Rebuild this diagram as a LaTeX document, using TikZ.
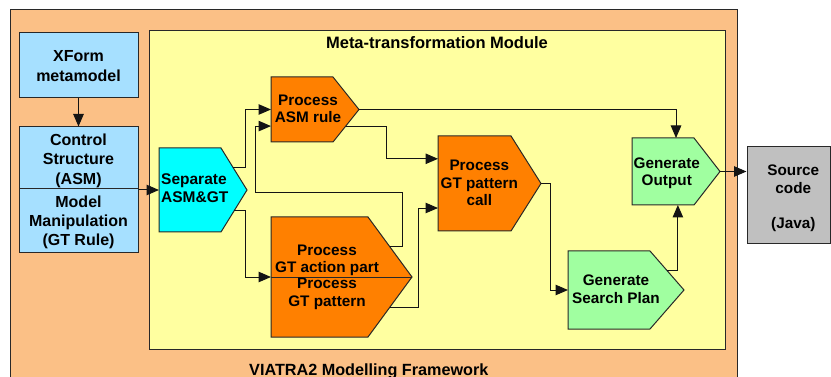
\documentclass[tikz,border=0pt]{standalone}
\usepackage{fontspec}
\setmainfont{Liberation Sans}
\usetikzlibrary{arrows.meta,calc}

\definecolor{framefill}{RGB}{251,192,134}
\definecolor{modulefill}{RGB}{255,255,160}
\definecolor{metafill}{RGB}{166,224,255}
\definecolor{sepfill}{RGB}{0,255,255}
\definecolor{procfill}{RGB}{255,128,0}
\definecolor{genfill}{RGB}{160,255,160}
\definecolor{srcfill}{RGB}{192,192,192}
\definecolor{edgec}{RGB}{40,40,40}
\definecolor{linec}{RGB}{20,20,20}

\tikzset{
  boxline/.style={draw=edgec, line width=1pt},
  conn/.style={draw=linec, line width=1pt, -{Triangle[length=12.5pt,width=10.5pt]}},
  txt/.style={font=\bfseries\fontsize{15.3}{17.5}\selectfont, align=center, inner sep=0pt},
  bigtxt/.style={font=\bfseries\fontsize{16}{19.8}\selectfont, align=center, inner sep=0pt},
  sidebox/.style={boxline, fill=metafill, minimum width=119pt, inner sep=0pt},
}

% Pentagon "process" box: name, left, top, right edge, tip x, bottom, fill
\newcommand{\flowbox}[7]{%
  \coordinate (#1-nw) at (#2,#3);
  \coordinate (#1-ne) at (#4,#3);
  \coordinate (#1-tip) at (#5,{(#3+#6)/2});
  \coordinate (#1-se) at (#4,#6);
  \coordinate (#1-sw) at (#2,#6);
  \coordinate (#1-w) at (#2,{(#3+#6)/2});
  \filldraw[boxline, fill=#7] (#1-nw) -- (#1-ne) -- (#1-tip) -- (#1-se) -- (#1-sw) -- cycle;
}

\begin{document}
\begin{tikzpicture}[x=1pt,y=-1pt]
\useasboundingbox (0,0) rectangle (831,377);
\clip (0,0) rectangle (831,377);

% framework and module frames
\filldraw[boxline, fill=framefill] (10,10) rectangle (737,400);
\filldraw[boxline, fill=modulefill] (149,31) rectangle (725,349);
\node[font=\bfseries\fontsize{16.5}{19}\selectfont, anchor=base, inner sep=0pt] (modtitle) at (437,48.3) {Meta-transformation Module};
\node[font=\bfseries\fontsize{16.2}{19}\selectfont, anchor=base west, inner sep=0pt] (fwtitle) at (249,375) {VIATRA2 Modelling Framework};

% metamodel and rule inputs
\node[sidebox, minimum height=65pt] (xform) at (78.5,65.5) {};
\node[sidebox, minimum height=62pt] (control) at (78.5,158) {};
\node[sidebox, minimum height=64pt] (model) at (78.5,221) {};
\node[bigtxt] (xformtxt) at (78.5,66.2) {XForm\\metamodel};
\node[bigtxt, font=\bfseries\fontsize{16}{19.2}\selectfont] (controltxt) at (78.5,160.7) {Control\\Structure\\(ASM)};
\node[bigtxt, font=\bfseries\fontsize{16}{19.2}\selectfont] (modeltxt) at (78.5,222.2) {Model\\Manipulation\\(GT Rule)};

% processing steps
\flowbox{sep}{159}{148}{221}{247}{232}{sepfill}
\node[txt, align=left, anchor=west, font=\bfseries\fontsize{15.5}{17.7}\selectfont] (septxt) at (161,188.4) {Separate\\ASM\&GT};

\flowbox{asm}{271}{77}{333}{359}{142}{procfill}
\node[txt] (asmtxt) at (308,109) {Process\\ASM rule};

\flowbox{gtp}{271}{217}{368}{412}{337}{procfill}
\draw[boxline] (gtp-w) -- (gtp-tip);
\node[txt] (gtatxt) at (327,260.5) {Process\\GT action part};
\node[txt] (gtptxt) at (327,293.7) {Process\\GT pattern};

\flowbox{gtc}{438}{136}{511}{541}{231}{procfill}
\node[txt] (gtctxt) at (479.3,182.9) {Process\\GT pattern\\call};

\flowbox{gsp}{568}{251}{650}{684}{329}{genfill}
\node[txt] (gsptxt) at (616,289.2) {Generate\\Search Plan};

\flowbox{gout}{632}{138}{694}{720}{205}{genfill}
\node[txt] (gouttxt) at (666.8,173.3) {Generate\\Output};

% generated code
\node[boxline, fill=srcfill, minimum width=83pt, minimum height=97pt, inner sep=0pt] (src) at (788.5,195.5) {};
\node[txt, font=\bfseries\fontsize{15.3}{17.6}\selectfont] (srctxt) at (793.3,198.3) {Source\\code\\\\(Java)};

% entry points on the boxes
\coordinate (asm-in2) at ($(asm-sw)!0.49!(asm-w)$);
\coordinate (gtc-in1) at ($(gtc-nw)!0.24!(gtc-sw)$);
\coordinate (gtc-in2) at ($(gtc-nw)!0.758!(gtc-sw)$);
\coordinate (gout-in1) at ($(gout-nw)!0.71!(gout-ne)$);
\coordinate (gout-in2) at ($(gout-sw)!0.74!(gout-se)$);

% connectors
\draw[conn] (xform) -- (control);
\draw[conn] (sep-w -| model.east) -- (sep-w);
\draw[conn] ($(sep-ne)!0.476!(sep-tip)$) -| ([xshift=-26pt]asm-w) -- (asm-w);
\draw[conn] ($(sep-tip)!0.5!(sep-se)$) -| ([xshift=-26pt]gtp-w) -- (gtp-w);
\draw[conn] ($(gtp-ne)!0.5!(gtp-tip)$) -| ([xshift=131pt,yshift=-66pt]asm-in2) -| ([xshift=-16pt]asm-in2) -- (asm-in2);
\draw[conn] ($(asm-tip)!0.508!(asm-se)$) -| ([xshift=-52pt]gtc-in1) -- (gtc-in1);
\draw[conn] ($(gtp-tip)!0.5!(gtp-se)$) -| ([xshift=-20pt]gtc-in2) -- (gtc-in2);
\draw[conn] (gtc-tip) -| ([xshift=-18pt]gsp-w) -- (gsp-w);
\draw[conn] ($(gsp-ne)!0.51!(gsp-tip)$) -| (gout-in2);
\draw[conn] (asm-tip) -| (gout-in1);
\draw[conn] (gout-tip) -- (gout-tip -| src.west);
\end{tikzpicture}
\end{document}
